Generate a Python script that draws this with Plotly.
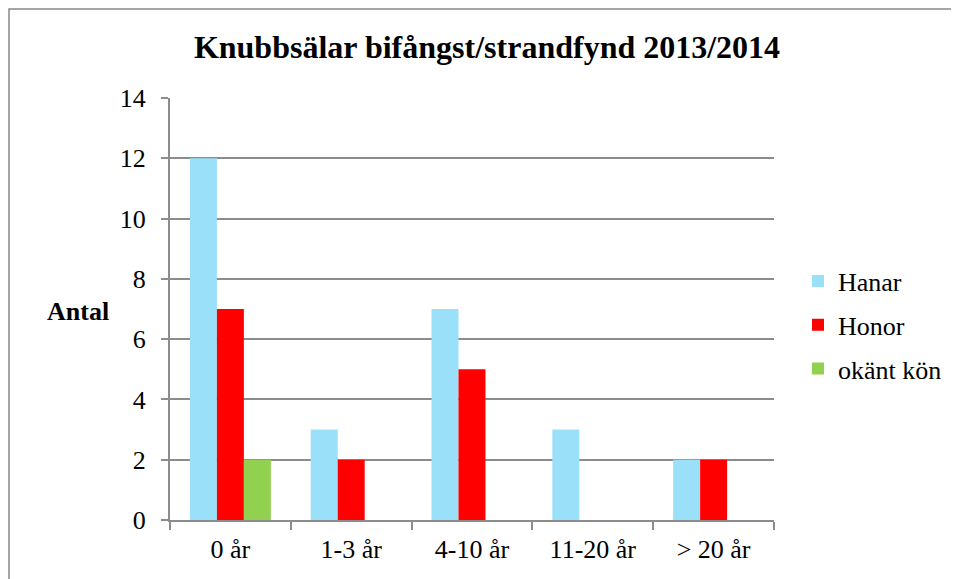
import plotly.graph_objects as go

categories = ["0 år", "1-3 år", "4-10 år", "11-20 år", "> 20 år"]
hanar = [12, 3, 7, 3, 2]
honor = [7, 2, 5, 0, 2]
okant = [2, 0, 0, 0, 0]
series_names = ["Hanar", "Honor", "okänt kön"]
colors = ["#99E0F8", "#FF0000", "#92D050"]
y_ticks = [0, 2, 4, 6, 8, 10, 12, 14]

FONT = "Times New Roman, Liberation Serif, serif"
GRID = "#8C8C8C"
OFF = 8  # page body margin

fig = go.Figure()
for name, vals, col in zip(series_names, [hanar, honor, okant], colors):
    fig.add_trace(go.Bar(x=categories, y=vals, name=name, marker=dict(color=col, line=dict(width=0)),
                         legendgroup=name))

fig.update_layout(
    width=959, height=579,
    margin=dict(l=170 - OFF, r=185 + OFF, t=98 - OFF, b=59 + OFF),
    paper_bgcolor="white", plot_bgcolor="white",
    font=dict(family=FONT, size=26, color="black"),
    barmode="group", bargap=0.33, bargroupgap=0,
    title=dict(text="<b>Knubbsälar bifångst/strandfynd 2013/2014</b>",
               x=(487 - OFF) / 959, xanchor="center", xref="container",
               y=1 - (47 - OFF) / 579, yanchor="middle", yref="container",
               font=dict(family=FONT, size=32, color="black")),
    showlegend=True,
    legend=dict(x=(798 - 170) / 604, xanchor="left", y=(520 - 325) / 422, yanchor="middle",
                font=dict(family=FONT, size=26, color="black"),
                tracegroupgap=7, traceorder="grouped", bgcolor="rgba(0,0,0,0)"),
    xaxis=dict(type="category", showgrid=False, showline=True, linecolor=GRID, linewidth=2,
               ticks="outside", tickson="boundaries", ticklen=8, tickcolor=GRID, tickwidth=2,
               tickfont=dict(family=FONT, size=26, color="black"), ticklabelstandoff=5),
    yaxis=dict(range=[0, 14], tickvals=y_ticks, showgrid=True, gridcolor=GRID, gridwidth=2,
               showline=True, linecolor=GRID, linewidth=2, zeroline=False,
               ticks="outside", ticklen=7, tickcolor=GRID, tickwidth=2,
               tickfont=dict(family=FONT, size=26, color="black"), ticklabelstandoff=10),
    annotations=[dict(text="<b>Antal</b>", x=(78 - 170) / 604, y=(520 - 311) / 422, xref="paper", yref="paper",
                      xanchor="center", yanchor="middle", showarrow=False,
                      font=dict(family=FONT, size=26, color="black"))],
    shapes=[dict(type="rect", xref="paper", yref="paper", x0=(1 - 162) / 604, x1=1.5,
                 y0=-0.5, y1=(512 - 1) / 422, line=dict(color="#888888", width=1.5),
                 fillcolor="rgba(0,0,0,0)", layer="below")],
)

fig.write_html("out.html")
